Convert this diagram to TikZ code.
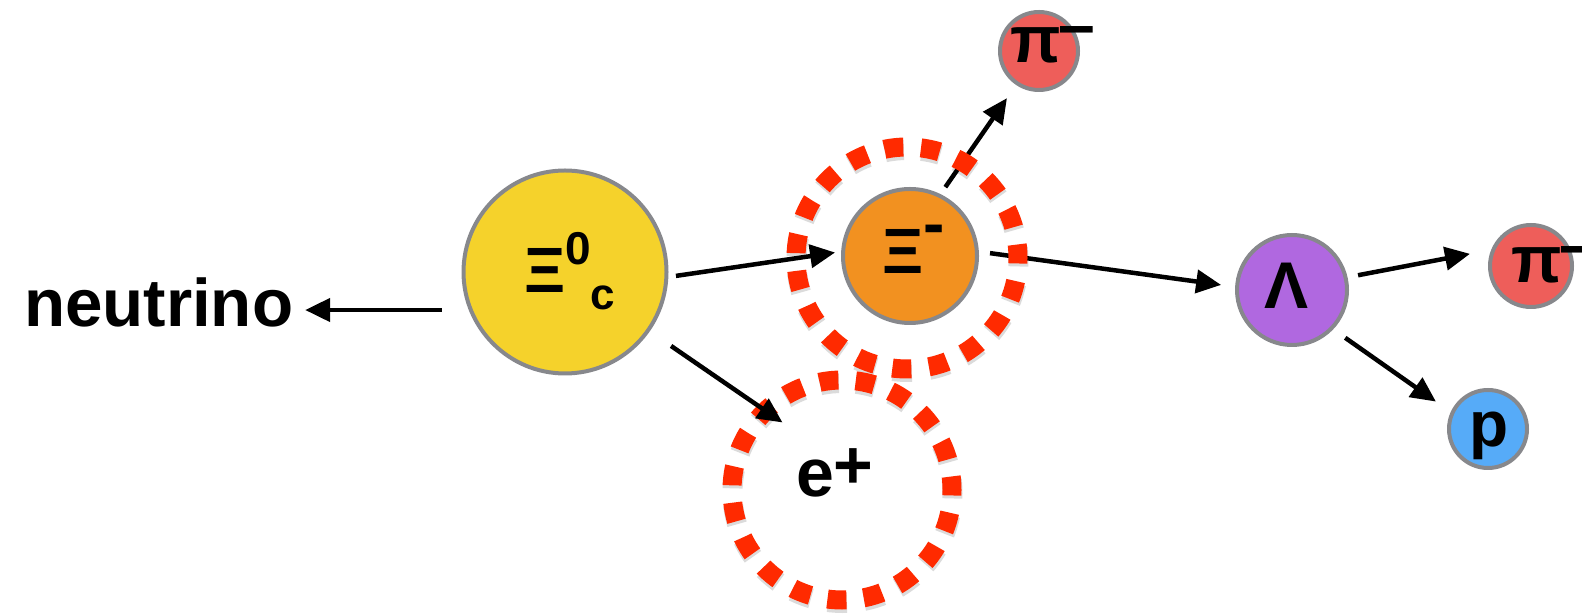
\documentclass[tikz,border=0pt]{standalone}
\usepackage{fontspec}
\setmainfont{Liberation Sans}
\usetikzlibrary{arrows.meta}

\definecolor{rimgray}{HTML}{87888C}
\definecolor{xicyellow}{HTML}{F5D22B}
\definecolor{ximorange}{HTML}{F29120}
\definecolor{pionred}{HTML}{EE5E5A}
\definecolor{lambdapurple}{HTML}{B068E0}
\definecolor{protonblue}{HTML}{56ABF8}
\definecolor{ringred}{HTML}{FF2A00}

\newcommand{\sz}[1]{\fontsize{#1}{#1}\selectfont}

\begin{document}
\begin{tikzpicture}[x=1pt,y=1pt,
  particle/.style={circle, draw=rimgray, line width=4pt, inner sep=0pt, outer sep=0pt},
  ring/.style={circle, draw=ringred, line width=19pt, inner sep=0pt, outer sep=0pt},
  ringshade/.style={draw=black, opacity=0.14, line width=20pt},
  decay/.style={line width=4.5pt, -{Triangle[length=25pt,width=23pt]}},
  lbl/.style={inner sep=0pt, outer sep=0pt, font=\bfseries}]
  \useasboundingbox (0,0) rectangle (1582,615);

  % particles
  \node[particle, fill=xicyellow,    minimum size=203pt] (xic)     at (565,343)  {};
  \node[particle, fill=ximorange,    minimum size=134pt] (xim)     at (910,359)  {};
  \node[particle, fill=pionred,      minimum size=78pt]  (pitop)   at (1039,564) {};
  \node[particle, fill=lambdapurple, minimum size=110pt] (lam)     at (1292,325) {};
  \node[particle, fill=pionred,      minimum size=82pt]  (piright) at (1531,349) {};
  \node[particle, fill=protonblue,   minimum size=78pt]  (p)       at (1488,186) {};

  % centres of the dashed rings
  \path (907,357) coordinate (ximringc);
  \path (842,125) coordinate (epc);

  % free label on the left
  \node[lbl, anchor=base west] (nu) at (24,288) {\sz{67.3pt}neutrino};

  % decay arrows
  \draw[decay, shorten <=29pt, shorten >=12pt] (xic.202) -- (nu.east |- xic.202);
  \draw[decay, shorten <=9.7pt, shorten >=8.2pt] (xic.-3.6) -- (xim.176.2);
  \draw[decay, shorten <=10.5pt, shorten >=18pt] (xim.64.4) -- (pitop.236);
  \draw[decay, shorten <=13.3pt, shorten >=16.1pt] (xim.4.1) -- (lam.177);
  \draw[decay, shorten <=12.7pt, shorten >=24pt] (lam.13.4) -- (piright.156.3);
  \draw[decay, shorten <=16.7pt, shorten >=20.1pt] (lam.-44.3) -- (p.156.6);

  % soft shadows under the dashed rings
  \draw[ringshade, dash pattern=on 19pt off 17.71pt, dash phase=5.5pt]
    ([shift={(0.5,-3)}]ximringc) circle[radius=111];
  \draw[ringshade, dash pattern=on 19pt off 17.38pt, dash phase=5.5pt]
    ([shift={(0.5,-3)}]epc) circle[radius=110];

  % dashed rings
  \node[ring, minimum size=222pt, dash pattern=on 19pt off 17.71pt, dash phase=5.5pt] (ximring) at (ximringc) {};
  \node[ring, minimum size=220pt, dash pattern=on 19pt off 17.38pt, dash phase=5.5pt] (ep) at (epc) {};

  % arrow into the positron ring
  \draw[decay, shorten <=27.8pt, shorten >=-20.5pt] (xic.-35) -- (ep.134.3);

  % particle names
  \node[lbl, anchor=base west] (xictxt) at (524,322)
    {{\sz{64pt}Ξ}\raisebox{28pt}{\sz{46pt}0}\raisebox{-17pt}{\sz{44pt}c}};
  \node[lbl, anchor=base west] (ximtxt) at (882,341)
    {\sz{64pt}Ξ\raisebox{28pt}{-}};
  \node[lbl, anchor=base west] (pitoptxt) at (1010,552)
    {\sz{66pt}π\kern-2pt\raisebox{15pt}{–}};
  \node[lbl, anchor=base west] (pirighttxt) at (1511,332)
    {\sz{66pt}π\kern-2pt\raisebox{15pt}{–}};
  \node[lbl, anchor=base] (lamtxt) at (1286.5,306) {\sz{66pt}Λ};
  \node[lbl, anchor=base] (ptxt) at (1489,168) {\sz{64pt}p};
  \node[lbl, anchor=base west] (eptxt) at (796,118)
    {\sz{68pt}e\raisebox{8.5pt}{+}};
\end{tikzpicture}
\end{document}
